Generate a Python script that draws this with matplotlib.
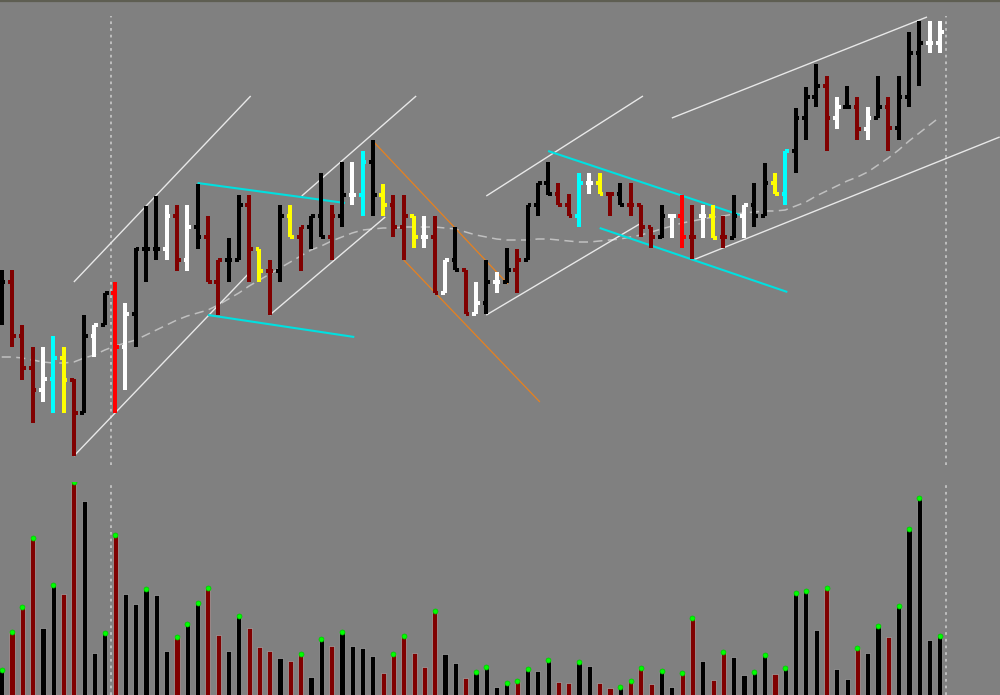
import matplotlib.pyplot as plt
import numpy as np
from matplotlib.lines import Line2D

# OHLC (price units, bar 0 = leftmost)
opens = [170, 188, 134, 102, 80, 91, 112, 90, 57, 134,
         145, 177, 123, 156, 221, 221, 221, 254, 210, 243,
         233, 188, 210, 210, 265, 221, 199, 199, 254, 233,
         243, 254, 233, 254, 275, 275, 308, 275, 265, 243,
         254, 233, 233, 177, 210, 200, 156, 167, 188, 188,
         200, 210, 265, 287, 276, 265, 254, 287, 287, 276,
         276, 265, 265, 243, 233, 254, 254, 233, 254, 254,
         233, 232, 254, 265, 254, 287, 276, 319, 352, 373,
         384, 352, 363, 363, 341, 352, 363, 342, 373, 417,
         427, 427]
highs = [200, 200, 145, 123, 123, 134, 123, 91, 155, 145,
         177, 188, 167, 222, 264, 274, 265, 265, 265, 286,
         254, 210, 232, 275, 275, 221, 210, 265, 265, 243,
         254, 297, 265, 308, 308, 319, 330, 286, 275, 275,
         254, 254, 254, 210, 243, 200, 188, 210, 198, 222,
         221, 265, 287, 308, 287, 276, 297, 297, 297, 276,
         287, 287, 265, 243, 265, 254, 275, 265, 265, 265,
         254, 275, 265, 287, 307, 297, 319, 362, 383, 406,
         394, 373, 384, 373, 363, 394, 373, 394, 438, 449,
         449, 449]
lows = [145, 123, 90, 47, 68, 57, 57, 14, 57, 113,
        145, 57, 80, 123, 188, 210, 210, 199, 199, 221,
        188, 155, 188, 210, 188, 188, 155, 188, 233, 199,
        221, 233, 210, 243, 265, 254, 254, 254, 233, 210,
        222, 222, 177, 177, 200, 156, 156, 156, 177, 187,
        177, 210, 254, 275, 265, 254, 243, 276, 276, 254,
        265, 254, 233, 222, 232, 232, 222, 211, 232, 232,
        222, 232, 232, 243, 254, 276, 265, 297, 330, 363,
        319, 341, 363, 330, 330, 352, 319, 330, 363, 384,
        417, 417]
closes = [188, 134, 102, 80, 91, 112, 90, 57, 134, 145,
          177, 123, 156, 221, 221, 221, 254, 210, 243, 233,
          188, 210, 210, 265, 221, 199, 199, 254, 233, 243,
          254, 233, 254, 275, 275, 308, 275, 265, 243, 254,
          233, 233, 177, 210, 200, 156, 167, 188, 188, 200,
          210, 265, 287, 276, 265, 254, 287, 287, 276, 276,
          265, 265, 243, 233, 254, 254, 233, 233, 254, 232,
          233, 254, 265, 254, 287, 276, 319, 352, 373, 384,
          352, 363, 363, 341, 352, 363, 342, 373, 417, 427,
          427, 438]
bar_codes = ("kdddwcydkw" "kRwkkkwdwk" "ddkkdydkyd" "kkdkwckydd" "ywdwkdwkwk"
             "dkkkddcwyd" "kdddkwRdwy" "dkwkkyckkk" "dwkdwkdkkk" "ww")

ma = [113, 113, 112, 110, 108, 107, 107, 108, 112, 115,
      120, 124, 127, 130, 135, 140, 145, 150, 154, 157,
      160, 165, 171, 177, 184, 190, 196, 202, 208, 214,
      220, 224, 229, 233, 237, 240, 241, 242, 242, 243,
      243, 243, 243, 242, 241, 238, 235, 233, 231, 230,
      230, 230, 231, 231, 230, 229, 228, 228, 229, 230,
      231, 233, 235, 238, 241, 244, 247, 249, 251, 253,
      254, 256, 257, 258, 259, 259, 260, 264, 268, 274,
      279, 284, 289, 293, 298, 305, 312, 320, 329, 337,
      345, 353]

volumes = [25, 63, 88, 157, 67, 110, 101, 213, 194, 42,
           62, 160, 101, 91, 106, 100, 44, 58, 71, 92,
           107, 60, 44, 79, 67, 48, 44, 37, 34, 41,
           18, 56, 49, 63, 49, 47, 39, 22, 41, 59,
           42, 28, 84, 41, 32, 17, 23, 28, 8, 12,
           14, 26, 24, 35, 13, 12, 33, 29, 12, 7,
           8, 14, 27, 11, 24, 8, 22, 77, 34, 15,
           43, 38, 20, 23, 40, 21, 27, 102, 104, 65,
           107, 26, 16, 47, 42, 69, 58, 89, 166, 197,
           55, 59]
vol_codes = ("kdddkkddkk" "kdkkkkkdkk" "ddkkdddkdd" "kkdkkkkddd" "dddkkdkkkk"
             "dkkkddkkdd" "kdddkkddkd" "dkkkkdkkkk" "dkkdkkdkkk" "kk")

# trend lines: (bar0, price0, bar1, price1, kind)
trendlines = [
    (7.0, 14, 24.1, 198, "w"),
    (7.0, 188, 24.15, 374, "w"),
    (26.0, 155, 37.2, 253, "w"),
    (29.1, 274, 40.2, 374, "w"),
    (47.0, 155, 62.2, 248, "w"),
    (47.0, 274, 62.2, 374, "w"),
    (65.0, 352, 89.75, 453, "w"),
    (67.05, 210, 96.8, 333, "w"),
    (19.0, 287, 33.3, 267, "c"),
    (20.0, 155, 34.2, 133, "c"),
    (53.0, 319, 71.6, 255, "c"),
    (58.0, 242, 76.2, 178, "c"),
    (36.0, 329, 49.1, 186, "o"),
    (39.0, 210, 52.2, 68, "o"),
]
separators = [10.6, 91.6]

palette = {"k": "#000000", "d": "#800000", "R": "#ff0000",
           "w": "#ffffff", "c": "#00ffff", "y": "#ffff00"}
line_style = {"w": ("#e8e8e8", 1.0), "c": ("#00e0e0", 1.5), "o": ("#e8801e", 0.9)}

bg = "#808080"
fig = plt.figure(figsize=(10, 6.95), dpi=100, facecolor=bg)
W, H = 1000, 695
x_left = -1.7 / 10.31
x_right = (W - 1.7) / 10.31

ax = fig.add_axes([0, 1 - 465 / H, 1, 465 / H])
ax.set_xlim(x_left, x_right)
ax.set_ylim(5, 470)
ax.set_axis_off()

vax = fig.add_axes([0, 0, 1, 213 / H])
vax.set_xlim(x_left, x_right)
vax.set_ylim(0, 213)
vax.set_axis_off()

x = np.arange(len(opens))
tick = 0.36
bar_lw = 1.45

for sx in separators:
    ax.axvline(sx, ymax=0.966, color="#c4c4c4", lw=1.3, ls=(0, (1.5, 2.2)))
    vax.axvline(sx, color="#c4c4c4", lw=1.3, ls=(0, (1.5, 2.2)))

ax.plot(x, ma, color="#c0c0c0", lw=1.1, ls=(0, (6, 3.5)))

for x0, p0, x1, p1, kind in trendlines:
    col, lw = line_style[kind]
    ax.plot([x0, x1], [p0, p1], color=col, lw=lw, solid_capstyle="butt")

cols = [palette[c] for c in bar_codes]
ax.vlines(x, lows, highs, colors=cols, lw=bar_lw, capstyle="butt", antialiased=False)
ax.hlines(opens, x - tick, x, colors=cols, lw=bar_lw, antialiased=False)
ax.hlines(closes, x, x + tick, colors=cols, lw=bar_lw, antialiased=False)

vcols = [palette[c] for c in vol_codes]
vax.bar(x, volumes, width=0.5, color=vcols, edgecolor="#a4a4a4", linewidth=0.5)
vol = np.array(volumes)
up = np.r_[True, vol[1:] > vol[:-1]]
vax.plot(x[up], vol[up], "o", color="#00ff00", ms=3.6, mec="#00c800", mew=0.5)

fig.add_artist(Line2D([0, 1], [1 - 0.7 / H, 1 - 0.7 / H], transform=fig.transFigure,
                      color="#5e5e52", lw=1.6))

fig.savefig("out.png", dpi=100, facecolor=bg)
